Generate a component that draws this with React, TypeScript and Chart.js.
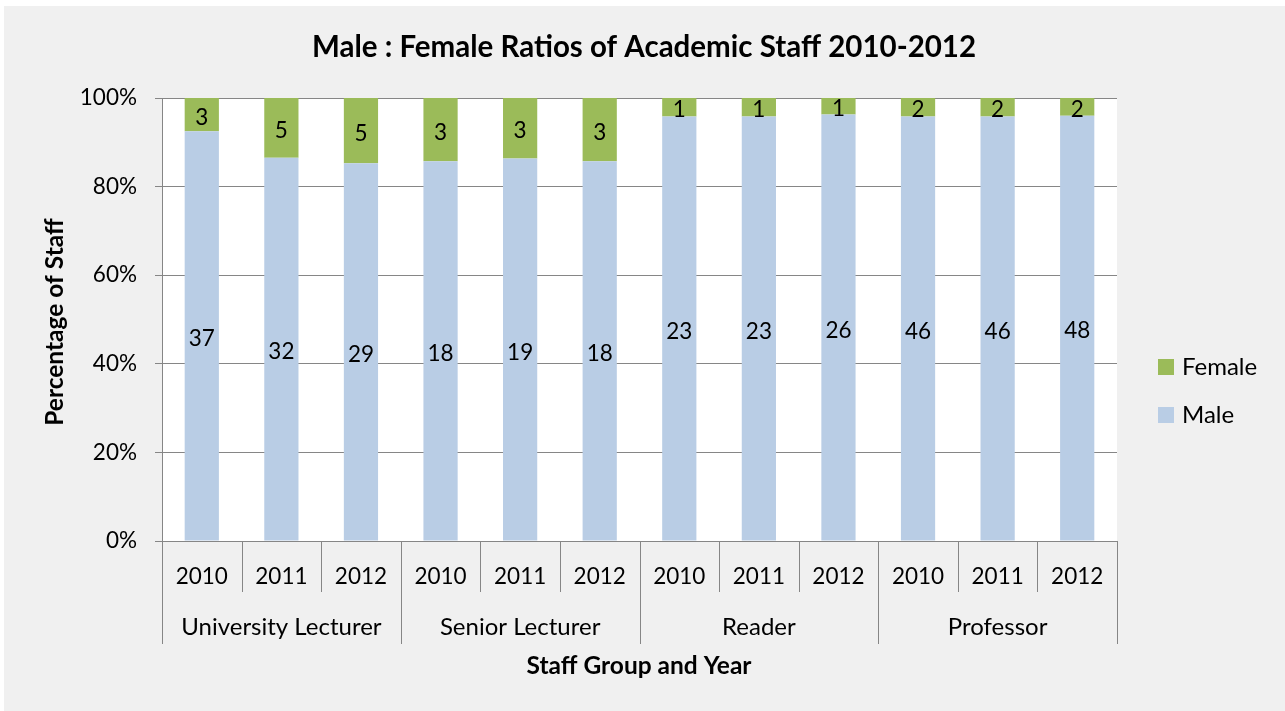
import React, { useEffect, useRef } from "react";
import { Chart, registerables } from "chart.js";

Chart.register(...registerables);

const groups = ["University Lecturer", "Senior Lecturer", "Reader", "Professor"];
const years = ["2010", "2011", "2012"];
const categories = groups.flatMap((g) => years.map((y) => `${g} ${y}`));
const maleCounts = [37, 32, 29, 18, 19, 18, 23, 23, 26, 46, 46, 48];
const femaleCounts = [3, 5, 5, 3, 3, 3, 1, 1, 1, 2, 2, 2];
const yTicks = [0, 20, 40, 60, 80, 100];

const FONT = 'Lato, "Open Sans", sans-serif';
const GRID = "#868686";
const MALE = "#B9CDE5";
const FEMALE = "#9BBB59";

const W = 1285;
const H = 711;

const malePct = maleCounts.map((m, i) => (100 * m) / (m + femaleCounts[i]));
const femalePct = femaleCounts.map((f, i) => (100 * f) / (maleCounts[i] + f));

const decorPlugin = {
  id: "decor",
  beforeDraw(chart: any) {
    const ctx = chart.ctx;
    ctx.save();
    ctx.fillStyle = "#ffffff";
    ctx.fillRect(0, 0, W, H);
    ctx.fillStyle = "#f0f0f0";
    ctx.fillRect(4, 6, W - 4, H - 6);
    const a = chart.chartArea;
    ctx.fillStyle = "#ffffff";
    ctx.fillRect(a.left, a.top, a.right - a.left, a.bottom - a.top);
    ctx.restore();
  },
  afterDraw(chart: any) {
    const ctx = chart.ctx;
    const a = chart.chartArea;
    const xs = chart.scales.x;
    const n = categories.length;
    const step = (a.right - a.left) / n;
    ctx.save();
    // title
    ctx.fillStyle = "#000";
    ctx.textAlign = "center";
    ctx.textBaseline = "middle";
    ctx.font = `bold 29.5px ${FONT}`;
    ctx.fillText("Male : Female Ratios of Academic Staff 2010-2012", 644, 47);
    // axis titles
    ctx.font = `bold 24.5px ${FONT}`;
    ctx.fillText("Staff Group and Year", 639, 666);
    ctx.save();
    ctx.translate(55, 322);
    ctx.rotate(-Math.PI / 2);
    ctx.fillText("Percentage of Staff", 0, 0);
    ctx.restore();

    // category axis separators
    ctx.strokeStyle = GRID;
    ctx.lineWidth = 1;
    for (let i = 0; i <= n; i++) {
      const x = Math.round(a.left + i * step) + 0.5;
      const isGroup = i % years.length === 0;
      ctx.beginPath();
      ctx.moveTo(x, a.bottom);
      ctx.lineTo(x, isGroup ? 644 : 592);
      ctx.stroke();
    }
    // year labels
    ctx.font = `22.5px ${FONT}`;
    ctx.fillStyle = "#000";
    for (let i = 0; i < n; i++) {
      const cx = xs.getPixelForValue(i);
      ctx.fillText(years[i % years.length], cx, 577);
    }
    // group labels
    ctx.font = `24px ${FONT}`;
    groups.forEach((g, gi) => {
      const x0 = a.left + gi * years.length * step;
      const x1 = x0 + years.length * step;
      ctx.fillText(g, (x0 + x1) / 2, 627);
    });

    // data labels
    ctx.font = `22.5px ${FONT}`;
    const metaM = chart.getDatasetMeta(0);
    const metaF = chart.getDatasetMeta(1);
    metaM.data.forEach((bar: any, i: number) => {
      const cy = (bar.y + bar.base) / 2 + 3;
      ctx.fillText(String(maleCounts[i]), bar.x, cy);
    });
    metaF.data.forEach((bar: any, i: number) => {
      const cy = (bar.y + bar.base) / 2 + 3;
      ctx.fillText(String(femaleCounts[i]), bar.x, cy);
    });

    // legend
    const legend = [
      { label: "Female", color: FEMALE, y: 367 },
      { label: "Male", color: MALE, y: 415 },
    ];
    ctx.font = `24px ${FONT}`;
    ctx.textAlign = "left";
    legend.forEach((l) => {
      ctx.fillStyle = l.color;
      ctx.fillRect(1158, l.y - 8, 16, 16);
      ctx.fillStyle = "#000";
      ctx.fillText(l.label, 1182, l.y);
    });
    ctx.restore();
  },
};

export default function App() {
  const ref = useRef<HTMLCanvasElement>(null);
  useEffect(() => {
    if (!ref.current) return;
    const chart = new Chart(ref.current, {
      type: "bar",
      data: {
        labels: categories,
        datasets: [
          {
            label: "Male",
            data: malePct,
            backgroundColor: MALE,
            barPercentage: 0.43,
            categoryPercentage: 1,
          },
          {
            label: "Female",
            data: femalePct,
            backgroundColor: FEMALE,
            barPercentage: 0.43,
            categoryPercentage: 1,
          },
        ],
      },
      options: {
        responsive: false,
        animation: false,
        devicePixelRatio: 1,
        layout: { padding: { left: 0, top: 98, right: 168, bottom: 0 } },
        plugins: {
          legend: { display: false },
          tooltip: { enabled: false },
          title: { display: false },
        },
        scales: {
          x: {
            stacked: true,
            grid: { display: false },
            ticks: { display: false },
            border: { display: true, color: GRID },
            afterFit: (s: any) => {
              s.height = 170;
            },
          },
          y: {
            stacked: true,
            min: 0,
            max: 100,
            afterBuildTicks: (s: any) => {
              s.ticks = yTicks.map((v) => ({ value: v }));
            },
            ticks: {
              color: "#000",
              font: { family: FONT, size: 22.5 },
              padding: 18,
              callback: (v: any) => `${v}%`,
            },
            grid: { color: GRID, lineWidth: 1, tickLength: 7, drawTicks: true },
            border: { display: true, color: GRID },
            afterFit: (s: any) => {
              s.width = 162;
            },
          },
        },
      },
      plugins: [decorPlugin],
    });
    return () => chart.destroy();
  }, []);
  return (
    <canvas
      ref={ref}
      width={W}
      height={H}
      style={{ position: "fixed", left: 0, top: 0, width: W, height: H, display: "block" }}
    />
  );
}
